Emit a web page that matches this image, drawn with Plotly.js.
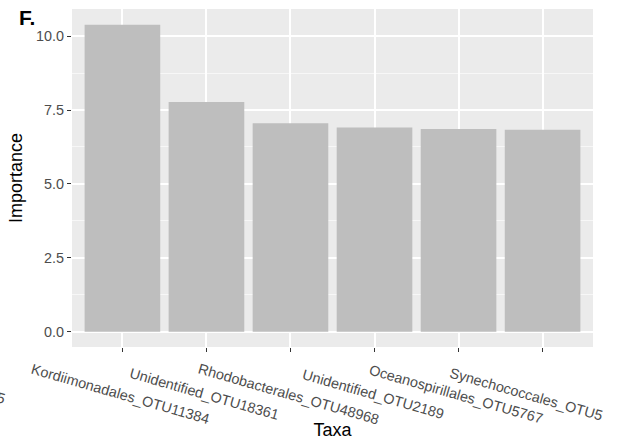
<!DOCTYPE html>
<html>
<head>
<meta charset="utf-8">
<script src="https://cdn.plot.ly/plotly-3.0.1.min.js"></script>
<style>html,body{margin:0;padding:0;background:#fff;}#chart{width:618px;height:445px;}</style>
</head>
<body>
<div id="chart"></div>
<script>
const taxa = ["Kordiimonadales_OTU11384", "Unidentified_OTU18361", "Rhodobacterales_OTU48968",
              "Unidentified_OTU2189", "Oceanospirillales_OTU5767", "Synechococcales_OTU5"];
const importance = [10.39, 7.77, 7.05, 6.91, 6.86, 6.83];
const yTicks = [0, 2.5, 5, 7.5, 10];
const yTickText = ["0.0", "2.5", "5.0", "7.5", "10.0"];
const panelLabel = "F.";

const FONT = "Liberation Sans, Arial, Helvetica, sans-serif";
const labelShift = [-2, -2, -2, -2, -3, -17];

const trace = {
  type: "bar",
  x: taxa,
  y: importance,
  marker: {color: "#BEBEBE", line: {width: 0}},
  hoverinfo: "x+y"
};

const annotations = taxa.map((t, i) => ({
  text: t, x: t, xref: "x", y: -0.14, yref: "paper",
  xanchor: "center", yanchor: "middle", textangle: 16, showarrow: false,
  xshift: labelShift[i],
  font: {family: FONT, size: 14.4, color: "#4D4D4D"}
}));
annotations.push({
  text: panelLabel, x: -0.105, xref: "paper", y: 0.976, yref: "paper",
  xanchor: "left", yanchor: "middle", showarrow: false,
  font: {family: FONT, size: 21, color: "#000000", weight: "bold"}
});
annotations.push({
  text: "5", x: -0.12, xref: "paper", y: -0.15, yref: "paper",
  xanchor: "right", yanchor: "middle", textangle: 16, showarrow: false,
  font: {family: FONT, size: 14.4, color: "#4D4D4D"}
});

const layout = {
  width: 618, height: 445,
  margin: {l: 72, r: 25, t: 9, b: 98, pad: 0},
  paper_bgcolor: "#FFFFFF",
  plot_bgcolor: "#EBEBEB",
  showlegend: false,
  bargap: 0.1,
  font: {family: FONT, color: "#000"},
  xaxis: {
    type: "category",
    range: [-0.6, 5.6],
    showgrid: true, gridcolor: "#FFFFFF", gridwidth: 2,
    zeroline: false, showline: false,
    ticks: "outside", ticklen: 4, tickwidth: 1, tickcolor: "#333333",
    showticklabels: false,
    title: {text: "Taxa", font: {family: FONT, size: 18, color: "#000"}, standoff: 72}
  },
  yaxis: {
    range: [-0.52, 10.92],
    tickvals: yTicks, ticktext: yTickText,
    showgrid: true, gridcolor: "#FFFFFF", gridwidth: 2,
    minor: {dtick: 1.25, tick0: 0, showgrid: true, gridcolor: "#F7F7F7", gridwidth: 1, ticks: ""},
    zeroline: false, showline: false,
    ticks: "outside", ticklen: 4, tickwidth: 1, tickcolor: "#333333",
    tickfont: {family: FONT, size: 14.4, color: "#4D4D4D"},
    title: {text: "Importance", font: {family: FONT, size: 18, color: "#000"}, standoff: 8}
  },
  annotations: annotations
};

Plotly.newPlot("chart", [trace], layout, {displayModeBar: false, staticPlot: true});
</script>
</body>
</html>
